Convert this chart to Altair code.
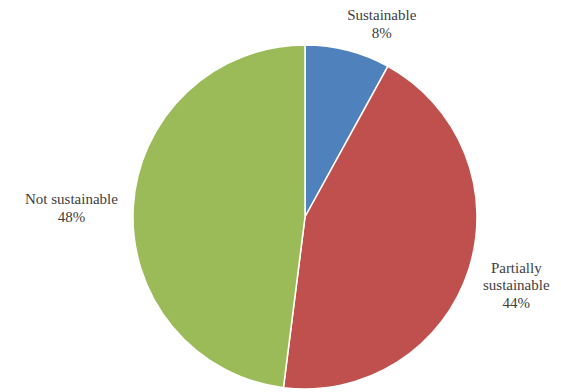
import altair as alt
import pandas as pd

categories = ["Sustainable", "Partially sustainable", "Not sustainable"]
values = [8, 44, 48]
label_lines = [["Sustainable"], ["Partially", "sustainable"], ["Not sustainable"]]
colors = ["#4F81BD", "#C0504D", "#9BBB59"]

df = pd.DataFrame({
    "cat": categories,
    "value": values,
    "order": list(range(len(categories))),
    "label": ["\n".join(l + [f"{v}%"]) for l, v in zip(label_lines, values)],
})

CX, CY, R = 297, 209, 172

base = alt.Chart(df)

arc = base.mark_arc(outerRadius=R, stroke="white", strokeWidth=1.5).encode(
    theta=alt.Theta("value:Q", stack=True, scale=alt.Scale(domain=[0, 100])),
    color=alt.Color("cat:N", scale=alt.Scale(domain=categories, range=colors), legend=None),
    order=alt.Order("order:Q"),
    x=alt.value(CX),
    y=alt.value(CY),
)

FONT = "Liberation Serif"

def label_layer(cat, radius, dx=0, dy=0):
    return base.transform_window(
        cum="sum(value)", sort=[alt.SortField("order")]
    ).transform_calculate(
        mid="datum.cum - datum.value / 2"
    ).transform_filter(
        alt.datum.cat == cat
    ).mark_text(
        radius=radius, dx=dx, dy=dy, font=FONT, fontSize=15,
        color="#404040", lineBreak="\n", lineHeight=17.5, align="center", baseline="middle",
    ).encode(
        theta=alt.Theta("mid:Q", scale=alt.Scale(domain=[0, 100])),
        text="label:N",
        x=alt.value(CX),
        y=alt.value(CY),
    )

chart = alt.layer(
    arc,
    label_layer("Sustainable", 200, dx=27, dy=-8),
    label_layer("Partially sustainable", 219, dx=3, dy=-17),
    label_layer("Not sustainable", 232, dx=-2, dy=-3),
).properties(width=545, height=376, padding=0).configure_view(stroke=None)

chart.save("out.html", embed_options={"renderer": "svg", "actions": False})
